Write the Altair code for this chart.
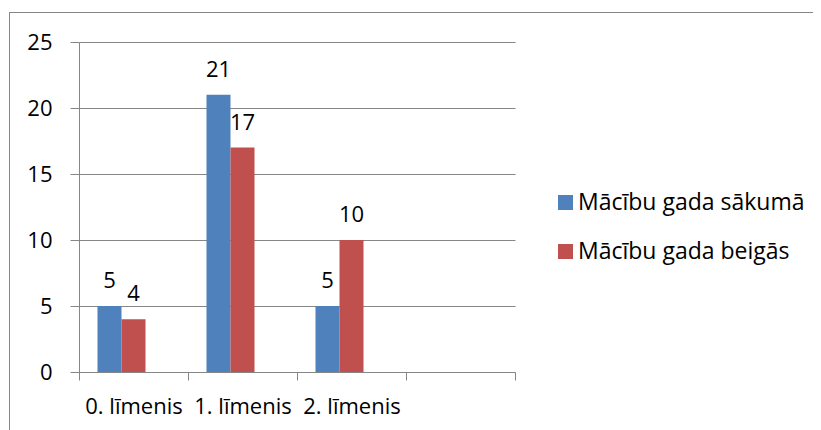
import altair as alt
import pandas as pd

categories = ["0. līmenis", "1. līmenis", "2. līmenis"]
series = ["Mācību gada sākumā", "Mācību gada beigās"]
start_values = [5, 21, 5]
end_values = [4, 17, 10]
y_ticks = [0, 5, 10, 15, 20, 25]
colors = ["#4F81BD", "#C0504D"]

rows = []
for c, s, e in zip(categories, start_values, end_values):
    rows.append({"cat": c, "series": series[0], "value": s})
    rows.append({"cat": c, "series": series[1], "value": e})
df = pd.DataFrame(rows)

x_domain = categories + [" "]
offset_domain = series + ["  "]

GRAY = "#868686"
FONT = "Open Sans"

base = alt.Chart(df).encode(
    x=alt.X(
        "cat:N",
        scale=alt.Scale(domain=x_domain, paddingInner=0, paddingOuter=0),
        axis=alt.Axis(
            title=None, labelAngle=0, tickBand="extent", grid=False,
            domainColor=GRAY, tickColor=GRAY, tickSize=8,
            labelPadding=16, labelBaseline="top", labelFont=FONT,
            labelFontSize=22, labelColor="black",
        ),
    ),
    xOffset=alt.XOffset(
        "series:N",
        scale=alt.Scale(domain=offset_domain, paddingInner=0, paddingOuter=0.77),
    ),
    y=alt.Y(
        "value:Q",
        scale=alt.Scale(domain=[0, 25], nice=False),
        axis=alt.Axis(
            title=None, values=y_ticks, grid=True, gridColor=GRAY,
            domainColor=GRAY, tickColor=GRAY, tickSize=9, labelPadding=18,
            labelFont=FONT, labelFontSize=22, labelColor="black",
        ),
    ),
)

bars = base.mark_bar().encode(
    color=alt.Color(
        "series:N",
        scale=alt.Scale(domain=series, range=colors),
        legend=alt.Legend(
            title=None, orient="none", legendX=475, legendY=149,
            symbolType="square", symbolSize=225, symbolStrokeWidth=0,
            labelFont=FONT, labelFontSize=23, labelColor="black",
            labelLimit=0, rowPadding=25, labelOffset=1, padding=0,
        ),
    )
)

labels = base.mark_text(
    dy=-18, baseline="alphabetic", fontSize=22, font=FONT, color="black"
).encode(text="value:Q")

frame_df = pd.DataFrame({"k": [0]})
top_line = alt.Chart(frame_df).mark_rule(color=GRAY, strokeWidth=1).encode(
    x=alt.value(-70), x2=alt.value(742), y=alt.value(-29.5)
)
left_line = alt.Chart(frame_df).mark_rule(color=GRAY, strokeWidth=1).encode(
    x=alt.value(-69.5), y=alt.value(-30), y2=alt.value(388)
)

chart = (
    alt.layer(bars, labels, top_line, left_line)
    .properties(
        width=436, height=330,
        autosize=alt.AutoSizeParams(type="none"),
        padding={"left": 71, "top": 34, "right": 298, "bottom": 58},
    )
    .configure_view(stroke=None)
)

chart.save("out.html", embed_options={"renderer": "svg", "actions": False})
